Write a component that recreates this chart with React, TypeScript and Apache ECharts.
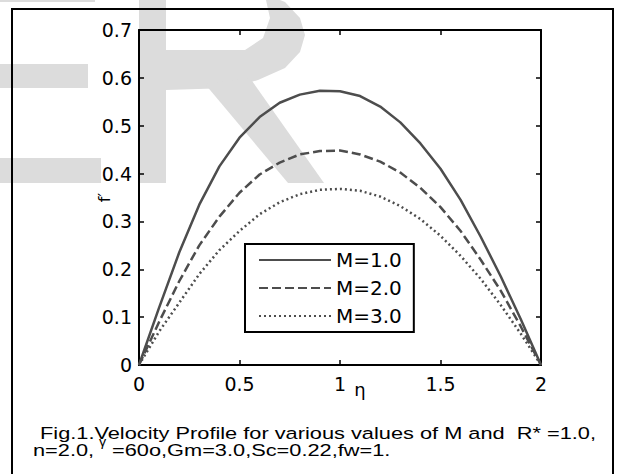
import React, { useEffect, useRef } from "react";
import * as echarts from "echarts";

// ---- data ----
const eta = [0, 0.1, 0.2, 0.3, 0.4, 0.5, 0.6, 0.7, 0.8, 0.9, 1.0, 1.1, 1.2, 1.3, 1.4, 1.5, 1.6, 1.7, 1.8, 1.9, 2.0];
const fM1 = [0, 0.12, 0.235, 0.335, 0.415, 0.475, 0.518, 0.548, 0.565, 0.573, 0.572, 0.562, 0.54, 0.507, 0.463, 0.41, 0.345, 0.268, 0.185, 0.095, 0];
const fM2 = [0, 0.09, 0.175, 0.25, 0.31, 0.36, 0.398, 0.423, 0.44, 0.447, 0.448, 0.44, 0.425, 0.402, 0.37, 0.33, 0.28, 0.22, 0.155, 0.08, 0];
const fM3 = [0, 0.07, 0.13, 0.19, 0.24, 0.28, 0.315, 0.34, 0.357, 0.366, 0.368, 0.364, 0.352, 0.332, 0.305, 0.27, 0.228, 0.18, 0.125, 0.065, 0];
const seriesNames = ["M=1.0", "M=2.0", "M=3.0"];
const xAxisName = "η";
const yAxisName = "f′";
const captionLine1 = "Fig.1.Velocity Profile for various values of M and  R* =1.0,";
const captionLine2a = "n=2.0,";
const captionGamma = "γ";
const captionLine2b = "=60o,Gm=3.0,Sc=0.22,fw=1.";

const pairs = (ys: number[]) => eta.map((x, i) => [x, ys[i]]);

const LINE = "#4d4d4d";
const WM = "#dcdcdc";
const AXFONT = "DejaVu Sans";

export default function App() {
  const ref = useRef<HTMLDivElement>(null);
  useEffect(() => {
    if (!ref.current) return;
    const chart = echarts.init(ref.current, undefined, { renderer: "svg" });
    const axisCommon = {
      axisLine: { show: true, onZero: false, lineStyle: { color: "#000", width: 2 } },
      axisTick: { show: true, inside: true, length: 5, lineStyle: { color: "#000", width: 1.5 } },
      splitLine: { show: false },
    };
    const capStyle = { fontFamily: "Liberation Sans", fontSize: 16.5, fill: "#000", textVerticalAlign: "middle", textAlign: "left" };
    chart.setOption({
      animation: false,
      backgroundColor: "#fff",
      grid: { left: 139, top: 30, width: 402, height: 335, containLabel: false },
      xAxis: [
        {
          type: "value", min: 0, max: 2, interval: 0.5, position: "bottom",
          ...axisCommon,
          axisLabel: { color: "#000", fontSize: 19, fontFamily: AXFONT, margin: 9 },
        },
        {
          type: "value", min: 0, max: 2, interval: 0.5, position: "top",
          ...axisCommon,
          axisLabel: { show: false },
        },
      ],
      yAxis: [
        {
          type: "value", min: 0, max: 0.7, interval: 0.1, position: "left",
          ...axisCommon,
          axisLabel: { color: "#000", fontSize: 19, fontFamily: AXFONT, margin: 7 },
          name: yAxisName, nameLocation: "middle", nameRotate: 90, nameGap: 27,
          nameMoveOverlap: false,
          nameTextStyle: { color: "#000", fontSize: 16, fontFamily: AXFONT },
        },
        {
          type: "value", min: 0, max: 0.7, interval: 0.1, position: "right",
          ...axisCommon,
          axisLabel: { show: false },
        },
      ],
      legend: {
        orient: "vertical",
        left: 245, top: 244,
        padding: [6, 12, 6, 13],
        itemWidth: 72, itemHeight: 14, itemGap: 8,
        borderColor: "#000", borderWidth: 2,
        backgroundColor: "#fff",
        itemStyle: { opacity: 0, color: "rgba(0,0,0,0)", borderWidth: 0 },
        textStyle: { color: "#000", fontSize: 20, fontFamily: AXFONT, lineHeight: 20 },
        data: seriesNames,
      },
      series: [
        { name: seriesNames[0], type: "line", data: pairs(fM1), symbol: "none", lineStyle: { color: LINE, width: 2.5, type: "solid" }, itemStyle: { color: LINE } },
        { name: seriesNames[1], type: "line", data: pairs(fM2), symbol: "none", lineStyle: { color: LINE, width: 2.5, type: [9, 4] }, itemStyle: { color: LINE } },
        { name: seriesNames[2], type: "line", data: pairs(fM3), symbol: "none", lineStyle: { color: LINE, width: 2.5, type: [2, 3] }, itemStyle: { color: LINE } },
      ],
      graphic: [
        // watermark "ER"
        { type: "rect", z: -10, shape: { x: 0, y: 0, width: 95, height: 2 }, style: { fill: WM } },
        { type: "rect", z: -10, shape: { x: 0, y: 64, width: 88, height: 24 }, style: { fill: WM } },
        { type: "rect", z: -10, shape: { x: 0, y: 158, width: 101, height: 25 }, style: { fill: WM } },
        { type: "rect", z: -10, shape: { x: 139, y: 0, width: 27, height: 183 }, style: { fill: WM } },
        {
          type: "polygon", z: -10,
          shape: { points: [[255, -10], [285, 2], [300, 18], [305, 35], [300, 52], [285, 68], [258, 80], [230, 88], [166, 90], [166, 50], [245, 50], [263, 38], [270, 18], [266, 0], [258, -10]] },
          style: { fill: WM },
        },
        {
          type: "polygon", z: -10,
          shape: { points: [[205, 84], [250, 78], [324, 183], [288, 183]] },
          style: { fill: WM },
        },
        // outer frame
        { type: "rect", z: 20, shape: { x: 12, y: 9, width: 601, height: 480 }, style: { fill: "none", stroke: "#000", lineWidth: 2 } },
        // x axis name
        { type: "text", z: 20, x: 360, y: 389, style: { text: xAxisName, fontFamily: AXFONT, fontSize: 18, fill: "#000", textAlign: "center", textVerticalAlign: "middle" } },
        // caption
        { type: "text", z: 20, x: 40, y: 433, scaleX: 1.32, style: { ...capStyle, text: captionLine1 } },
        { type: "text", z: 20, x: 33, y: 450, scaleX: 1.32, style: { ...capStyle, text: captionLine2a } },
        { type: "text", z: 20, x: 99, y: 442, scaleX: 1.2, style: { ...capStyle, fontSize: 12, text: captionGamma } },
        { type: "text", z: 20, x: 112, y: 450, scaleX: 1.32, style: { ...capStyle, text: captionLine2b } },
      ],
    });
    return () => chart.dispose();
  }, []);
  return <div ref={ref} style={{ position: "absolute", left: 0, top: 0, width: 621, height: 474 }} />;
}
